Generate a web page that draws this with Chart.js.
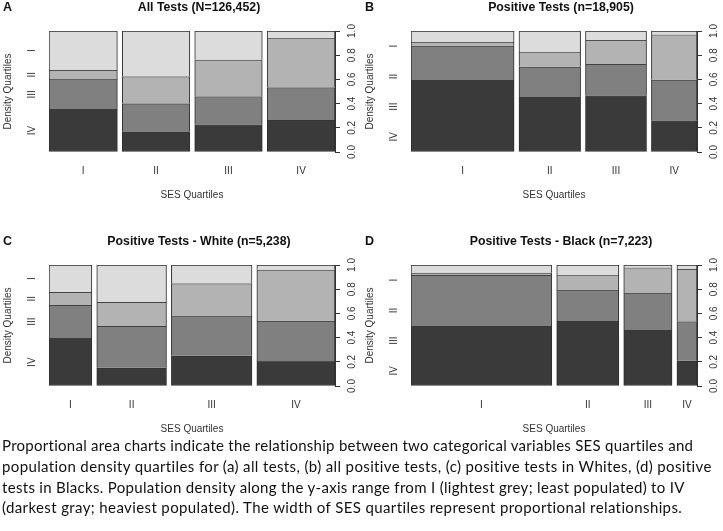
<!DOCTYPE html>
<html>
<head>
<meta charset="utf-8">
<script src="https://cdn.jsdelivr.net/npm/chart.js@4.4.1/dist/chart.umd.min.js"></script>
<style>
  html, body { margin: 0; padding: 0; background: #fff; }
  #page { position: relative; width: 723px; height: 531px; overflow: hidden; font-family: 'Liberation Sans', Arial, sans-serif; }
  .panel { position: absolute; width: 361px; height: 205px; }
  .panel .plot { position: absolute; left: 0; top: 0; width: 361px; height: 205px; }
  .tag { position: absolute; left: 3px; top: 0; font-weight: bold; font-size: 12.5px; line-height: 15px; color: #111; }
  .title { position: absolute; left: 0; top: 0; width: 398px; text-align: center; font-weight: bold; font-size: 12.3px; line-height: 15px; color: #111; white-space: nowrap; }
  #caption { position: absolute; left: 2px; top: 435px; font-family: Lato, 'Open Sans', sans-serif; font-size: 15px; line-height: 20.8px; color: #111; }
  #caption .line { display: block; width: max-content; white-space: nowrap; }
</style>
</head>
<body>
<div id="page">
  <div class="panel" style="left:0;top:0;">
    <div class="plot"><canvas id="chartA"></canvas></div>
    <div class="tag">A</div><div class="title">All Tests (N=126,452)</div>
  </div>
  <div class="panel" style="left:362px;top:0;">
    <div class="plot"><canvas id="chartB"></canvas></div>
    <div class="tag">B</div><div class="title">Positive Tests (n=18,905)</div>
  </div>
  <div class="panel" style="left:0;top:234px;">
    <div class="plot"><canvas id="chartC"></canvas></div>
    <div class="tag">C</div><div class="title">Positive Tests - White (n=5,238)</div>
  </div>
  <div class="panel" style="left:362px;top:234px;">
    <div class="plot"><canvas id="chartD"></canvas></div>
    <div class="tag">D</div><div class="title">Positive Tests - Black (n=7,223)</div>
  </div>
  <div id="caption">
    <span class="line" data-w="692">Proportional area charts indicate the relationship between two categorical variables SES quartiles and</span>
    <span class="line" data-w="711">population density quartiles for (a) all tests, (b) all positive tests, (c) positive tests in Whites, (d) positive</span>
    <span class="line" data-w="683">tests in Blacks. Population density along the y-axis range from I (lightest grey; least populated) to IV</span>
    <span class="line" data-w="681">(darkest gray; heaviest populated). The width of SES quartiles represent proportional relationships.</span>
  </div>
</div>

<script>
const sesLabels = ['I', 'II', 'III', 'IV'];
const densityLabels = ['I', 'II', 'III', 'IV'];

// A - all tests: width of each SES column, then share of each density quartile in it
const allWidth = [0.252, 0.249, 0.249, 0.250];
const allI   = [0.323, 0.376, 0.238, 0.061];
const allII  = [0.077, 0.224, 0.303, 0.406];
const allIII = [0.246, 0.231, 0.232, 0.268];
const allIV  = [0.354, 0.169, 0.227, 0.265];

// B - positive tests
const posWidth = [0.380, 0.227, 0.225, 0.168];
const posI   = [0.092, 0.177, 0.077, 0.030];
const posII  = [0.030, 0.119, 0.196, 0.373];
const posIII = [0.284, 0.251, 0.260, 0.337];
const posIV  = [0.594, 0.453, 0.467, 0.260];

// C - positive tests, White
const whiteWidth = [0.158, 0.257, 0.297, 0.288];
const whiteI   = [0.225, 0.308, 0.153, 0.039];
const whiteII  = [0.106, 0.198, 0.272, 0.425];
const whiteIII = [0.275, 0.344, 0.325, 0.333];
const whiteIV  = [0.394, 0.150, 0.250, 0.203];

// D - positive tests, Black
const blackWidth = [0.519, 0.229, 0.178, 0.074];
const blackI   = [0.065, 0.086, 0.022, 0.033];
const blackII  = [0.018, 0.120, 0.209, 0.434];
const blackIII = [0.423, 0.258, 0.308, 0.325];
const blackIV  = [0.494, 0.536, 0.461, 0.208];

const shades = ['#dcdcdc', '#b3b3b3', '#808080', '#3a3a3a']; // I .. IV
const edge = '#2e2e2e';
const ink = '#333';
const axisFont = { family: "'Liberation Sans', Arial, sans-serif", size: 10 };
const gap = 0.018;

// spineplot style: labels sit in the middle of the first column's pieces,
// or are spread evenly when those pieces are too thin
function densityLabelAt(firstCol) {
  let base = 0;
  const mids = firstCol.map(p => { const m = base + p / 2; base += p; return m; });
  const crowded = mids.some((m, i) => i > 0 && m - mids[i - 1] < 0.1);
  return crowded ? mids.map((m, i) => (i + 0.5) / mids.length) : mids;
}

function buildPanel(canvasId, widths, shares) {
  const starts = [];
  let acc = 0;
  widths.forEach(w => { starts.push(acc); acc += w + gap; });
  const xMax = acc - gap;
  const centers = widths.map((w, j) => starts[j] + w / 2);

  const bottomUp = shares.slice().reverse();          // IV, III, II, I
  const fillUp = shades.slice().reverse();
  const labelsUp = densityLabels.slice().reverse();
  const labelAt = densityLabelAt(bottomUp.map(level => level[0]));

  const datasets = widths.map((w, j) => {
    let base = 0;
    const data = bottomUp.map(level => {
      const lo = base;
      base += level[j];
      return { x: centers[j], y: [lo, base] };
    });
    return {
      data,
      stack: 'mosaic',
      backgroundColor: fillUp,
      borderColor: edge,
      borderSkipped: false,
      borderWidth: ctx => ({ top: 1, left: 1, right: 1, bottom: ctx.dataIndex === 0 ? 1 : 0 }),
      barThickness: ctx => {
        const x = ctx.chart.scales.x;
        return x.getPixelForValue(w) - x.getPixelForValue(0);
      }
    };
  });

  new Chart(document.getElementById(canvasId), {
    type: 'bar',
    data: { datasets },
    options: {
      responsive: true,
      maintainAspectRatio: false,
      animation: false,
      events: [],
      layout: { padding: { top: 31, left: 0, right: 0, bottom: 0 } },
      plugins: { legend: { display: false }, tooltip: { enabled: false } },
      scales: {
        x: {
          type: 'linear', min: 0, max: xMax, offset: false, stacked: true,
          grid: { display: false, drawTicks: false },
          border: { display: false },
          afterBuildTicks: s => { s.ticks = centers.map(v => ({ value: v })); },
          afterFit: s => { s.height = 53; },
          ticks: { autoSkip: false, maxRotation: 0, padding: 13, color: ink, font: axisFont,
                   callback: (v, i) => sesLabels[i] },
          title: { display: true, text: 'SES Quartiles', color: ink, font: axisFont,
                   padding: { top: 0, bottom: 4 } }
        },
        y: {
          type: 'linear', position: 'right', min: 0, max: 1, stacked: false,
          grid: { display: true, drawOnChartArea: false, drawTicks: true, tickLength: 5, color: ink },
          border: { display: true, color: ink },
          afterFit: s => { s.width = 26; },
          ticks: { stepSize: 0.2, minRotation: 90, maxRotation: 90, padding: 5, crossAlign: 'center',
                   color: ink, font: axisFont, callback: v => v.toFixed(1) }
        },
        yl: {
          type: 'linear', position: 'left', min: 0, max: 1,
          grid: { display: false, drawTicks: false },
          border: { display: false },
          afterBuildTicks: s => { s.ticks = labelAt.map(v => ({ value: v })); },
          afterFit: s => { s.width = 49; },
          ticks: { autoSkip: false, minRotation: 90, maxRotation: 90, padding: 12, crossAlign: 'center',
                   color: ink, font: axisFont, callback: (v, i) => labelsUp[i] },
          title: { display: true, text: 'Density Quartiles', color: ink, font: axisFont,
                   padding: { top: 2, bottom: 0 } }
        }
      }
    }
  });
}

buildPanel('chartA', allWidth, [allI, allII, allIII, allIV]);
buildPanel('chartB', posWidth, [posI, posII, posIII, posIV]);
buildPanel('chartC', whiteWidth, [whiteI, whiteII, whiteIII, whiteIV]);
buildPanel('chartD', blackWidth, [blackI, blackII, blackIII, blackIV]);

// the caption was set in Calibri; stretch each line of the stand-in font to the same length
function fitCaption() {
  document.querySelectorAll('#caption .line').forEach(line => {
    line.style.letterSpacing = '0px';
    const natural = line.getBoundingClientRect().width;
    const target = Number(line.dataset.w);
    line.style.letterSpacing = ((target - natural) / line.textContent.length) + 'px';
  });
}
fitCaption();
document.fonts.ready.then(fitCaption);
</script>
</body>
</html>
